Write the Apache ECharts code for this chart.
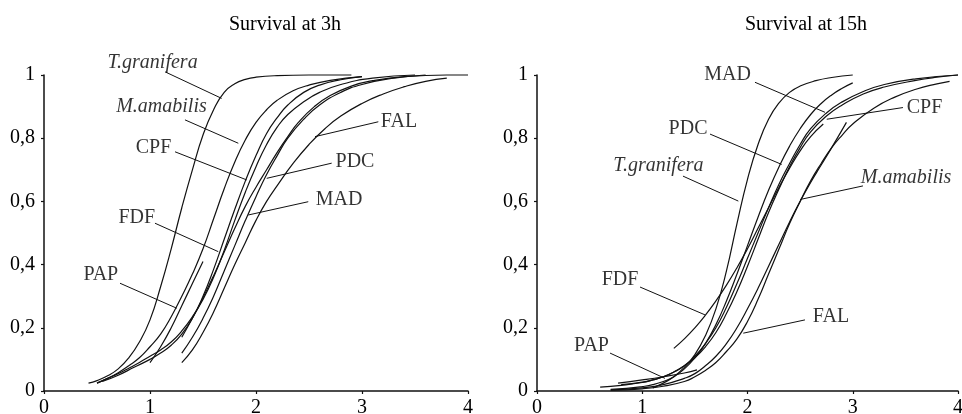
<!DOCTYPE html>
<html><head><meta charset="utf-8">
<script src="https://cdn.jsdelivr.net/npm/echarts@6/dist/echarts.min.js"></script>
<style>html,body{margin:0;padding:0;background:#fff}#c{width:962px;height:414px}</style>
</head><body><div id="c"></div>
<script>
const panelTitles = ['Survival at 3h', 'Survival at 15h'];
const xTickLabels = ['0', '1', '2', '3', '4'];
const yTickLabels = ['0', '0,2', '0,4', '0,6', '0,8', '1'];
const speciesNames = ['T.granifera', 'M.amabilis', 'CPF', 'FDF', 'PAP', 'PDC', 'MAD', 'FAL'];
const italicNames = ['T.granifera', 'M.amabilis'];

// ---- Survival at 3h ----
const h3_Tgranifera = [[0.42,0.025],[0.5,0.033],[0.6,0.048],[0.7,0.07],[0.8,0.105],[0.9,0.155],[1.0,0.225],[1.1,0.33],[1.2,0.45],[1.3,0.58],[1.4,0.7],[1.5,0.81],[1.6,0.89],[1.7,0.945],[1.8,0.972],[1.9,0.986],[2.0,0.993],[2.2,0.998],[2.5,1.0],[2.9,1.0]];
const h3_Mamabilis = [[0.5,0.025],[0.6,0.04],[0.7,0.058],[0.8,0.08],[0.9,0.105],[1.0,0.14],[1.1,0.18],[1.2,0.235],[1.3,0.3],[1.4,0.37],[1.5,0.45],[1.6,0.545],[1.7,0.64],[1.8,0.725],[1.9,0.795],[2.0,0.85],[2.1,0.89],[2.2,0.92],[2.35,0.95],[2.5,0.968],[2.7,0.983],[3.0,0.995]];
const h3_CPF = [[0.55,0.03],[0.7,0.05],[0.85,0.075],[1.0,0.1],[1.1,0.12],[1.2,0.145],[1.3,0.18],[1.4,0.23],[1.5,0.3],[1.6,0.385],[1.7,0.48],[1.8,0.575],[1.9,0.665],[2.0,0.745],[2.1,0.815],[2.2,0.865],[2.3,0.905],[2.45,0.945],[2.6,0.968],[2.8,0.985],[3.0,0.995]];
const h3_FDF = [[0.5,0.025],[0.6,0.04],[0.7,0.055],[0.8,0.072],[0.9,0.09],[1.0,0.11],[1.1,0.13],[1.2,0.155],[1.3,0.19],[1.4,0.235],[1.5,0.29],[1.6,0.36],[1.7,0.445],[1.8,0.54],[1.9,0.63],[2.0,0.71],[2.1,0.78],[2.2,0.835],[2.3,0.875],[2.45,0.915],[2.6,0.945],[2.8,0.97],[3.1,0.99],[3.5,1.0]];
const h3_PAP = [[1.0,0.09],[1.1,0.14],[1.2,0.2],[1.3,0.27],[1.4,0.34],[1.5,0.41]];
const h3_PDC = [[1.3,0.17],[1.4,0.23],[1.5,0.295],[1.6,0.365],[1.7,0.44],[1.8,0.515],[1.9,0.585],[2.0,0.645],[2.1,0.7],[2.2,0.755],[2.3,0.805],[2.4,0.85],[2.55,0.9],[2.7,0.935],[2.9,0.965],[3.1,0.982],[3.4,0.995],[3.8,1.0],[4.0,1.0]];
const h3_MAD = [[1.3,0.12],[1.4,0.17],[1.5,0.23],[1.6,0.3],[1.7,0.38],[1.8,0.46],[1.9,0.54],[2.0,0.615],[2.1,0.685],[2.2,0.745],[2.3,0.8],[2.45,0.86],[2.6,0.905],[2.8,0.945],[3.0,0.97],[3.3,0.99],[3.6,1.0]];
const h3_FAL = [[1.3,0.09],[1.4,0.13],[1.5,0.185],[1.6,0.25],[1.7,0.325],[1.8,0.4],[1.9,0.47],[2.0,0.54],[2.1,0.6],[2.2,0.65],[2.35,0.72],[2.5,0.78],[2.65,0.83],[2.8,0.87],[3.0,0.91],[3.2,0.94],[3.4,0.963],[3.6,0.98],[3.8,0.99]];

// annotation anchors for 3h (data units), in speciesNames order
const h3_labelAt     = [[1.024,1.038],[1.108,0.899],[1.033,0.771],[0.875,0.547],[0.536,0.367],[2.934,0.726],[2.783,0.604],[3.349,0.852]];
const h3_pointerFrom = [[1.142,1.010],[1.330,0.858],[1.236,0.757],[1.047,0.531],[0.717,0.341],[2.714,0.721],[2.493,0.599],[3.154,0.852]];
const h3_pointerTo   = [[1.676,0.926],[1.833,0.784],[1.912,0.668],[1.644,0.441],[1.252,0.262],[2.101,0.673],[1.927,0.557],[2.557,0.805]];

// ---- Survival at 15h ----
const h15_Tgranifera = [[1.1,0.01],[1.2,0.025],[1.3,0.045],[1.4,0.075],[1.5,0.115],[1.6,0.175],[1.7,0.26],[1.8,0.38],[1.9,0.53],[2.0,0.67],[2.1,0.78],[2.2,0.86],[2.3,0.912],[2.4,0.945],[2.5,0.965],[2.65,0.982],[2.8,0.992],[3.0,1.0]];
const h15_Mamabilis = [[0.7,0.003],[1.0,0.01],[1.2,0.02],[1.4,0.04],[1.5,0.055],[1.6,0.08],[1.7,0.11],[1.8,0.15],[1.9,0.2],[2.0,0.26],[2.1,0.325],[2.2,0.395],[2.3,0.465],[2.4,0.535],[2.5,0.6],[2.6,0.66],[2.7,0.715],[2.8,0.77],[2.94,0.85]];
const h15_CPF = [[0.8,0.02],[1.0,0.028],[1.1,0.035],[1.2,0.045],[1.3,0.06],[1.4,0.08],[1.5,0.105],[1.6,0.14],[1.7,0.185],[1.8,0.245],[1.9,0.315],[2.0,0.395],[2.1,0.48],[2.2,0.565],[2.3,0.64],[2.4,0.71],[2.5,0.77],[2.6,0.82],[2.75,0.87],[2.9,0.905],[3.1,0.94],[3.3,0.962],[3.6,0.983],[3.8,0.993],[4.0,1.0]];
const h15_FDF = [[1.3,0.135],[1.4,0.165],[1.5,0.2],[1.6,0.24],[1.7,0.285],[1.8,0.335],[1.9,0.39],[2.0,0.45],[2.1,0.515],[2.2,0.58],[2.3,0.645],[2.4,0.705],[2.5,0.76],[2.6,0.805],[2.72,0.845]];
const h15_PAP = [[0.77,0.025],[1.0,0.035],[1.2,0.045],[1.4,0.057],[1.52,0.067]];
const h15_PDC = [[0.7,0.005],[0.85,0.008],[1.0,0.014],[1.1,0.02],[1.2,0.03],[1.3,0.045],[1.4,0.07],[1.5,0.105],[1.6,0.15],[1.7,0.21],[1.8,0.285],[1.9,0.37],[2.0,0.46],[2.1,0.55],[2.2,0.635],[2.3,0.71],[2.4,0.775],[2.5,0.83],[2.6,0.875],[2.7,0.91],[2.8,0.937],[2.9,0.958],[3.0,0.975]];
const h15_MAD = [[0.6,0.012],[0.8,0.018],[1.0,0.027],[1.1,0.035],[1.2,0.045],[1.3,0.06],[1.4,0.08],[1.5,0.11],[1.6,0.15],[1.7,0.2],[1.8,0.265],[1.9,0.34],[2.0,0.42],[2.1,0.5],[2.2,0.58],[2.3,0.655],[2.4,0.72],[2.5,0.78],[2.6,0.83],[2.75,0.88],[2.9,0.915],[3.1,0.948],[3.3,0.97],[3.6,0.988],[4.0,1.0]];
const h15_FAL = [[0.7,0.003],[1.0,0.007],[1.2,0.015],[1.4,0.03],[1.5,0.045],[1.6,0.065],[1.7,0.09],[1.8,0.125],[1.9,0.165],[2.0,0.22],[2.1,0.29],[2.2,0.37],[2.3,0.45],[2.4,0.53],[2.5,0.6],[2.6,0.665],[2.7,0.72],[2.8,0.77],[2.9,0.81],[3.0,0.845],[3.2,0.895],[3.4,0.93],[3.6,0.955],[3.8,0.972],[3.92,0.98]];

const h15_labelAt     = [[1.154,0.714],[3.506,0.676],[3.682,0.897],[0.789,0.352],[0.518,0.143],[1.435,0.829],[1.81,1.0],[2.793,0.235]];
const h15_pointerFrom = [[1.387,0.680],[3.097,0.649],[3.477,0.897],[0.979,0.329],[0.694,0.120],[1.644,0.813],[2.071,0.977],[2.546,0.225]];
const h15_pointerTo   = [[1.913,0.601],[2.499,0.606],[2.753,0.860],[1.596,0.241],[1.216,0.040],[2.325,0.717],[2.736,0.882],[1.960,0.183]];

const h3_curves  = [h3_Tgranifera, h3_Mamabilis, h3_CPF, h3_FDF, h3_PAP, h3_PDC, h3_MAD, h3_FAL];
const h15_curves = [h15_Tgranifera, h15_Mamabilis, h15_CPF, h15_FDF, h15_PAP, h15_PDC, h15_MAD, h15_FAL];

const FONT = '"Liberation Serif", "Times New Roman", Times, serif';
const INK = '#111';
const TEXT = '#000';

function makeX(gi) {
  return {
    type: 'value', gridIndex: gi, min: 0, max: 4, interval: 1,
    axisLine: { show: true, onZero: false, lineStyle: { color: INK, width: 1.5 } },
    axisTick: { show: true, inside: false, length: 3, lineStyle: { color: INK, width: 1.2 } },
    splitLine: { show: false },
    axisLabel: { margin: 7, color: TEXT, fontFamily: FONT, fontSize: 20, formatter: v => xTickLabels[Math.round(v)] }
  };
}
function makeY(gi) {
  return {
    type: 'value', gridIndex: gi, min: 0, max: 1, interval: 0.2,
    axisLine: { show: true, onZero: false, lineStyle: { color: INK, width: 1.5 } },
    axisTick: { show: true, inside: false, length: 3, lineStyle: { color: INK, width: 1.2 } },
    splitLine: { show: false },
    axisLabel: { margin: 9, color: TEXT, fontFamily: FONT, fontSize: 20, formatter: v => yTickLabels[Math.round(v / 0.2)] }
  };
}

const series = [];
function addPanel(gi, curves, labelAt, pFrom, pTo) {
  curves.forEach((c, i) => {
    series.push({
      type: 'line', name: speciesNames[i] + '_' + gi, xAxisIndex: gi, yAxisIndex: gi,
      data: c, showSymbol: false, smooth: 0.5, clip: false,
      lineStyle: { color: INK, width: 1.2 }, silent: true
    });
    series.push({
      type: 'line', xAxisIndex: gi, yAxisIndex: gi, data: [pFrom[i], pTo[i]],
      showSymbol: false, clip: false, lineStyle: { color: INK, width: 1 }, silent: true
    });
  });
  series.push({
    type: 'scatter', xAxisIndex: gi, yAxisIndex: gi, symbolSize: 0, clip: false, silent: true,
    data: speciesNames.map((n, i) => ({
      value: labelAt[i], name: n,
      label: { fontStyle: italicNames.includes(n) ? 'italic' : 'normal' }
    })),
    label: { show: true, position: 'inside', formatter: p => p.name, color: TEXT, fontFamily: FONT, fontSize: 20 }
  });
}
addPanel(0, h3_curves, h3_labelAt, h3_pointerFrom, h3_pointerTo);
addPanel(1, h15_curves, h15_labelAt, h15_pointerFrom, h15_pointerTo);

const chart = echarts.init(document.getElementById('c'), null, { renderer: 'canvas' });
chart.setOption({
  animation: false,
  backgroundColor: '#fff',
  textStyle: { fontFamily: FONT },
  title: [
    { text: panelTitles[0], left: 285, top: 15, textAlign: 'center', padding: 0,
      textStyle: { fontFamily: FONT, fontSize: 20, fontWeight: 'normal', color: TEXT } },
    { text: panelTitles[1], left: 806, top: 15, textAlign: 'center', padding: 0,
      textStyle: { fontFamily: FONT, fontSize: 20, fontWeight: 'normal', color: TEXT } }
  ],
  grid: [
    { left: 44, top: 75, width: 424, height: 316, containLabel: false, outerBoundsMode: 'none' },
    { left: 537, top: 75, width: 421, height: 316, containLabel: false, outerBoundsMode: 'none' }
  ],
  xAxis: [makeX(0), makeX(1)],
  yAxis: [makeY(0), makeY(1)],
  series: series
});
</script>
</body></html>
